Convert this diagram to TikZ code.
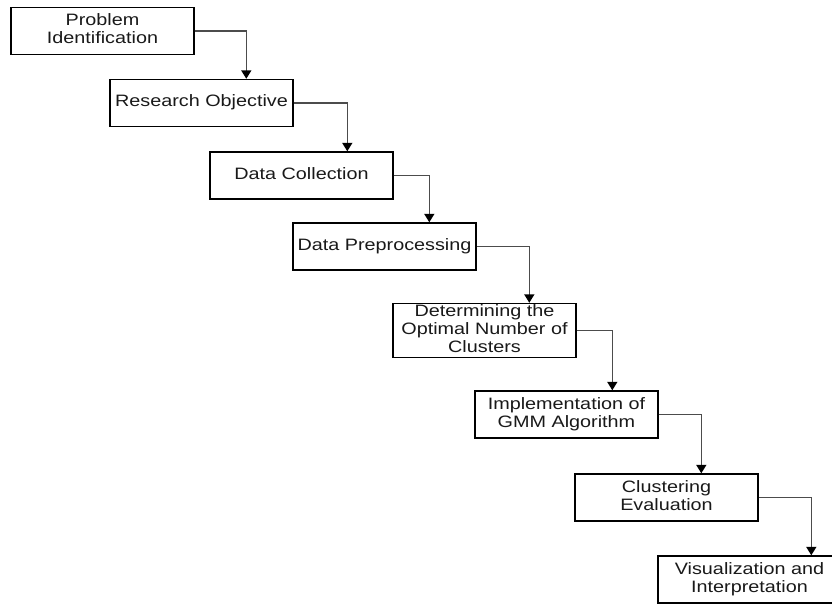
\documentclass[tikz,border=0pt]{standalone}
\usepackage{fontspec}
\setmainfont{Liberation Sans}
\usepackage{graphicx}
\usetikzlibrary{arrows.meta}
\newcommand{\wtext}[1]{\scalebox{1.2}[1]{\begin{tabular}{@{}c@{}}#1\end{tabular}}}

\begin{document}
\begin{tikzpicture}[x=1pt,y=-1pt,
  bx/.style={draw,line width=1.4pt,minimum width=183pt,minimum height=47pt,inner sep=0pt,
    text=black!90,font=\fontsize{16.5}{18}\selectfont},
  ar/.style={draw=black!70,line width=1.6pt,-{Triangle[width=10pt,length=8.5pt,color=black]}}]
  \useasboundingbox (0,0) rectangle (832,606);
  \clip (0,0) rectangle (832,606);
  \node[bx] (pi)  at (102.5,31)  {\wtext{Problem\\Identification}};
  \node[bx] (ro)  at (201.5,103) {\wtext{Research Objective}};
  \node[bx] (dc)  at (301.5,175.5) {\wtext{Data Collection}};
  \node[bx] (dp)  at (384.5,246.5) {\wtext{Data Preprocessing}};
  \node[bx] (nk)  at (484.5,330.5) {\wtext{Determining the\\Optimal Number of\\Clusters}};
  \node[bx] (gmm) at (566.5,414.5) {\wtext{Implementation of\\GMM Algorithm}};
  \node[bx] (ce)  at (666.5,497.5) {\wtext{Clustering\\Evaluation}};
  \node[bx] (vi)  at (749.5,579.5) {\wtext{Visualization and\\Interpretation}};
  \draw[ar] (pi.east)  -| ([xshift=137pt]ro.north west);
  \draw[ar] (ro.east)  -| ([xshift=138pt]dc.north west);
  \draw[ar] (dc.east)  -| ([xshift=137pt]dp.north west);
  \draw[ar] (dp.east)  -| ([xshift=137pt]nk.north west);
  \draw[ar] (nk.east)  -| ([xshift=138pt]gmm.north west);
  \draw[ar] (gmm.east) -| ([xshift=127pt]ce.north west);
  \draw[ar] (ce.east)  -| ([xshift=154pt]vi.north west);
\end{tikzpicture}
\end{document}
